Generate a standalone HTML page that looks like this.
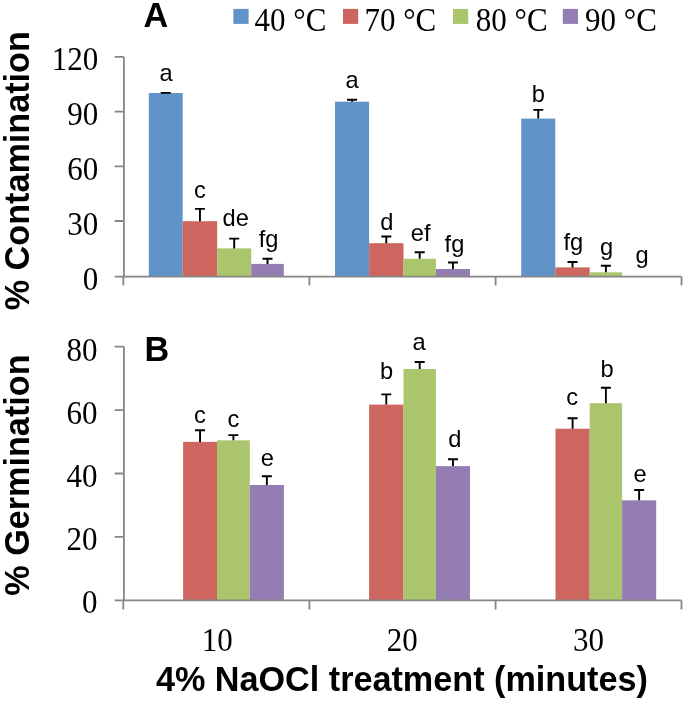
<!DOCTYPE html>
<html><head><meta charset="utf-8"><style>
html,body{margin:0;padding:0;background:#fff;}
body{width:685px;height:701px;overflow:hidden;}
svg{display:block;will-change:transform;filter:blur(0.4px);}
.t{font-family:"Liberation Serif",serif;font-size:31px;fill:#000;}
.l{font-family:"Liberation Sans",sans-serif;font-size:23px;fill:#000;}
.h{font-family:"Liberation Sans",sans-serif;font-size:34.2px;font-weight:bold;fill:#000;}
</style></head><body>
<svg width="685" height="701" viewBox="0 0 685 701">
<rect x="148.80" y="93.00" width="33.90" height="183.70" fill="#6094C8"/>
<rect x="182.70" y="221.20" width="34.50" height="55.50" fill="#CD665E"/>
<rect x="217.20" y="248.40" width="34.00" height="28.30" fill="#ABC56D"/>
<rect x="251.20" y="263.90" width="32.60" height="12.80" fill="#947DB3"/>
<rect x="335.00" y="101.70" width="34.10" height="175.00" fill="#6094C8"/>
<rect x="369.10" y="243.20" width="34.40" height="33.50" fill="#CD665E"/>
<rect x="403.50" y="258.80" width="32.40" height="17.90" fill="#ABC56D"/>
<rect x="435.90" y="269.00" width="34.10" height="7.70" fill="#947DB3"/>
<rect x="521.20" y="118.60" width="34.10" height="158.10" fill="#6094C8"/>
<rect x="555.30" y="267.40" width="34.40" height="9.30" fill="#CD665E"/>
<rect x="589.70" y="272.30" width="32.40" height="4.40" fill="#ABC56D"/>
<path d="M160.75 92.90H170.75M165.75 92.90V93.00" stroke="#000" stroke-width="1.9" fill="none"/>
<path d="M194.95 208.90H204.95M199.95 208.90V221.20" stroke="#000" stroke-width="1.9" fill="none"/>
<path d="M229.20 238.60H239.20M234.20 238.60V248.40" stroke="#000" stroke-width="1.9" fill="none"/>
<path d="M262.50 258.80H272.50M267.50 258.80V263.90" stroke="#000" stroke-width="1.9" fill="none"/>
<path d="M347.05 99.70H357.05M352.05 99.70V101.70" stroke="#000" stroke-width="1.9" fill="none"/>
<path d="M381.30 236.50H391.30M386.30 236.50V243.20" stroke="#000" stroke-width="1.9" fill="none"/>
<path d="M414.70 252.30H424.70M419.70 252.30V258.80" stroke="#000" stroke-width="1.9" fill="none"/>
<path d="M447.95 262.50H457.95M452.95 262.50V269.00" stroke="#000" stroke-width="1.9" fill="none"/>
<path d="M533.25 109.90H543.25M538.25 109.90V118.60" stroke="#000" stroke-width="1.9" fill="none"/>
<path d="M567.50 262.00H577.50M572.50 262.00V267.40" stroke="#000" stroke-width="1.9" fill="none"/>
<path d="M600.90 265.70H610.90M605.90 265.70V272.30" stroke="#000" stroke-width="1.9" fill="none"/>
<rect x="183.10" y="441.90" width="33.90" height="158.50" fill="#CD665E"/>
<rect x="217.00" y="440.30" width="32.80" height="160.10" fill="#ABC56D"/>
<rect x="249.80" y="485.00" width="34.10" height="115.40" fill="#947DB3"/>
<rect x="369.10" y="404.60" width="34.40" height="195.80" fill="#CD665E"/>
<rect x="403.50" y="369.00" width="32.40" height="231.40" fill="#ABC56D"/>
<rect x="435.90" y="466.10" width="34.10" height="134.30" fill="#947DB3"/>
<rect x="555.50" y="428.70" width="34.20" height="171.70" fill="#CD665E"/>
<rect x="589.70" y="403.20" width="32.40" height="197.20" fill="#ABC56D"/>
<rect x="622.10" y="500.30" width="34.10" height="100.10" fill="#947DB3"/>
<path d="M195.05 430.20H205.05M200.05 430.20V441.90" stroke="#000" stroke-width="1.9" fill="none"/>
<path d="M228.40 435.10H238.40M233.40 435.10V440.30" stroke="#000" stroke-width="1.9" fill="none"/>
<path d="M261.85 476.30H271.85M266.85 476.30V485.00" stroke="#000" stroke-width="1.9" fill="none"/>
<path d="M381.30 394.40H391.30M386.30 394.40V404.60" stroke="#000" stroke-width="1.9" fill="none"/>
<path d="M414.70 362.00H424.70M419.70 362.00V369.00" stroke="#000" stroke-width="1.9" fill="none"/>
<path d="M447.95 459.20H457.95M452.95 459.20V466.10" stroke="#000" stroke-width="1.9" fill="none"/>
<path d="M567.60 418.20H577.60M572.60 418.20V428.70" stroke="#000" stroke-width="1.9" fill="none"/>
<path d="M600.90 387.70H610.90M605.90 387.70V403.20" stroke="#000" stroke-width="1.9" fill="none"/>
<path d="M634.15 490.00H644.15M639.15 490.00V500.30" stroke="#000" stroke-width="1.9" fill="none"/>
<path d="M123.9 57V276.6 M114.7 56.9H123.9 M114.7 111.6H123.9 M114.7 166.4H123.9 M114.7 221.0H123.9 M114.7 276.7H123.9 M123.9 276.6H681.5 M123.3 276.6V285.6 M309.4 276.6V285.6 M495.6 276.6V285.6 M681.5 276.6V285.6" stroke="#868686" stroke-width="1.8" fill="none"/>
<path d="M123.9 346.6V600.4 M114.7 346.6H123.9 M114.7 410.05H123.9 M114.7 473.5H123.9 M114.7 536.95H123.9 M114.7 600.4H123.9 M123.9 600.4H681.5 M123.3 600.4V609.4 M309.4 600.4V609.4 M495.6 600.4V609.4 M681.5 600.4V609.4" stroke="#868686" stroke-width="1.8" fill="none"/>
<text class="t" transform="translate(98.3 70.10) scale(1 1.06)" text-anchor="end">120</text>
<text class="t" transform="translate(98.3 125.07) scale(1 1.06)" text-anchor="end">90</text>
<text class="t" transform="translate(98.3 180.04) scale(1 1.06)" text-anchor="end">60</text>
<text class="t" transform="translate(98.3 235.01) scale(1 1.06)" text-anchor="end">30</text>
<text class="t" transform="translate(98.3 289.98) scale(1 1.06)" text-anchor="end">0</text>
<text class="t" transform="translate(97.4 360.80) scale(1 1.06)" text-anchor="end">80</text>
<text class="t" transform="translate(97.4 423.95) scale(1 1.06)" text-anchor="end">60</text>
<text class="t" transform="translate(97.4 487.10) scale(1 1.06)" text-anchor="end">40</text>
<text class="t" transform="translate(97.4 550.25) scale(1 1.06)" text-anchor="end">20</text>
<text class="t" transform="translate(97.4 613.40) scale(1 1.06)" text-anchor="end">0</text>
<text class="t" transform="translate(217.2 650.70) scale(1 1.06)" text-anchor="middle">10</text>
<text class="t" transform="translate(402.3 650.70) scale(1 1.06)" text-anchor="middle">20</text>
<text class="t" transform="translate(588.5 650.70) scale(1 1.06)" text-anchor="middle">30</text>
<text class="l" transform="translate(166.10 81.10) scale(1.03 1.0)" text-anchor="middle">a</text>
<text class="l" transform="translate(199.90 197.70) scale(1.03 1.0)" text-anchor="middle">c</text>
<text class="l" transform="translate(235.70 225.90) scale(1.03 1.0)" text-anchor="middle">de</text>
<text class="l" transform="translate(268.60 247.05) scale(1.03 1.0)" text-anchor="middle">fg</text>
<text class="l" transform="translate(352.10 88.35) scale(1.03 1.0)" text-anchor="middle">a</text>
<text class="l" transform="translate(386.85 230.35) scale(1.03 1.0)" text-anchor="middle">d</text>
<text class="l" transform="translate(420.60 241.25) scale(1.03 1.0)" text-anchor="middle">ef</text>
<text class="l" transform="translate(454.50 252.05) scale(1.03 1.0)" text-anchor="middle">fg</text>
<text class="l" transform="translate(538.25 101.75) scale(1.03 1.0)" text-anchor="middle">b</text>
<text class="l" transform="translate(573.40 250.45) scale(1.03 1.0)" text-anchor="middle">fg</text>
<text class="l" transform="translate(606.70 255.40) scale(1.03 1.0)" text-anchor="middle">g</text>
<text class="l" transform="translate(642.05 262.65) scale(1.03 1.0)" text-anchor="middle">g</text>
<text class="l" transform="translate(199.90 423.00) scale(1.03 1.0)" text-anchor="middle">c</text>
<text class="l" transform="translate(233.50 426.75) scale(1.03 1.0)" text-anchor="middle">c</text>
<text class="l" transform="translate(267.40 466.40) scale(1.03 1.0)" text-anchor="middle">e</text>
<text class="l" transform="translate(386.60 379.15) scale(1.03 1.0)" text-anchor="middle">b</text>
<text class="l" transform="translate(419.20 350.30) scale(1.03 1.0)" text-anchor="middle">a</text>
<text class="l" transform="translate(454.75 446.50) scale(1.03 1.0)" text-anchor="middle">d</text>
<text class="l" transform="translate(572.25 404.90) scale(1.03 1.0)" text-anchor="middle">c</text>
<text class="l" transform="translate(607.05 376.60) scale(1.03 1.0)" text-anchor="middle">b</text>
<text class="l" transform="translate(640.00 482.40) scale(1.03 1.0)" text-anchor="middle">e</text>
<rect x="233.4" y="8.9" width="15.2" height="15" fill="#6094C8"/>
<text class="t" transform="translate(254.6 31.00) scale(1 1.06)">40 °C</text>
<rect x="343" y="8.9" width="15.2" height="15" fill="#CD665E"/>
<text class="t" transform="translate(364.4 31.00) scale(1 1.06)">70 °C</text>
<rect x="453" y="8.9" width="15.2" height="15" fill="#ABC56D"/>
<text class="t" transform="translate(475.8 31.00) scale(1 1.06)">80 °C</text>
<rect x="562.8" y="8.9" width="15.2" height="15" fill="#947DB3"/>
<text class="t" transform="translate(585.1 31.00) scale(1 1.06)">90 °C</text>
<text class="h" transform="translate(143.6 27.3) scale(1 1.04)">A</text>
<text class="h" transform="translate(144.4 360.9) scale(1 1.04)">B</text>
<text class="h" transform="translate(155.9 690.6) scale(1 1.04)">4% NaOCl treatment (minutes)</text>
<text class="h" transform="translate(28.9 310.3) rotate(-90) scale(1 1.04)">% Contamination</text>
<text class="h" transform="translate(28.9 595.7) rotate(-90) scale(1 1.04)">% Germination</text>
</svg>
</body></html>
